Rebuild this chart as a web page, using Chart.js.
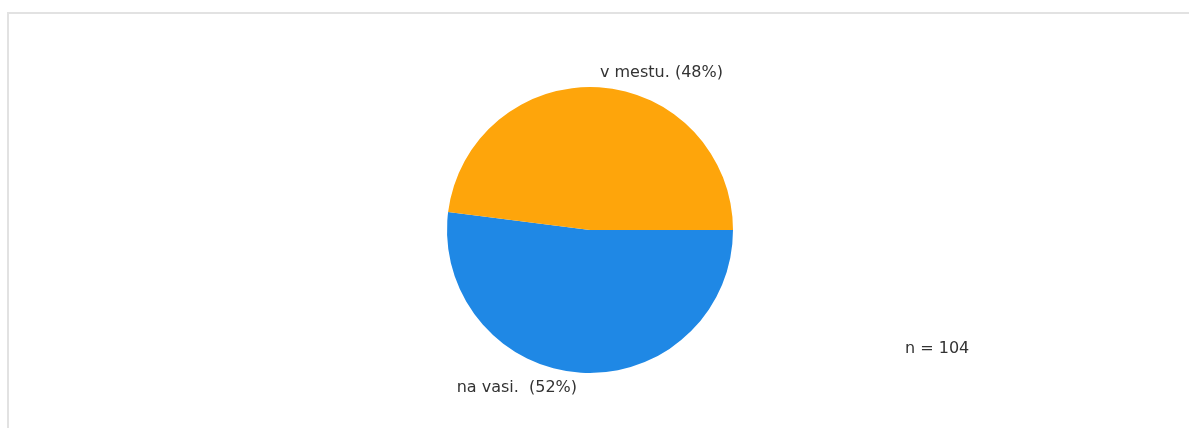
<!DOCTYPE html>
<html>
<head>
<meta charset="utf-8">
<script src="https://cdn.jsdelivr.net/npm/chart.js@4.4.1/dist/chart.umd.min.js"></script>
<style>
  html, body { margin: 0; padding: 0; background: #fff; }
  #wrap { position: relative; width: 1189px; height: 428px; overflow: hidden; }
  #frame { position: absolute; left: 7px; top: 12px; right: -4px; bottom: -4px;
           border-left: 2px solid #e2e2e2; border-top: 2px solid #e2e2e2; }
  canvas { position: absolute; left: 0; top: 0; }
</style>
</head>
<body>
<div id="wrap">
  <div id="frame"></div>
  <canvas id="c" width="1189" height="428"></canvas>
</div>
<script>
// Where respondents live
const categories = ['na vasi.', 'v mestu.'];
const shares = [52, 48];
const colors = ['#1f88e5', '#fea50b'];
const sampleNote = 'n = 104';

const labelFont = '16px "DejaVu Sans", Verdana, sans-serif';
const textColor = '#333333';

// Writes "name (xx%)" next to the outer edge of each slice, plus the sample size
const sliceLabels = {
  id: 'sliceLabels',
  afterDatasetsDraw(chart) {
    const ctx = chart.ctx;
    const meta = chart.getDatasetMeta(0);
    ctx.save();
    ctx.font = labelFont;
    ctx.fillStyle = textColor;
    ctx.textBaseline = 'middle';
    meta.data.forEach((arc, i) => {
      const p = arc.getProps(['x', 'y', 'startAngle', 'endAngle', 'outerRadius'], true);
      const mid = (p.startAngle + p.endAngle) / 2;
      const ex = p.x + Math.cos(mid) * p.outerRadius;
      const ey = p.y + Math.sin(mid) * p.outerRadius;
      const below = Math.sin(mid) > 0;
      const txt = categories[i] + (below ? '  ' : ' ') + '(' + shares[i] + '%)';
      const right = ex >= p.x;
      ctx.textAlign = right ? 'left' : 'right';
      ctx.fillText(txt, right ? ex + 1 : ex - 4, below ? ey + 15 : ey - 14);
    });
    ctx.textAlign = 'left';
    ctx.fillText(sampleNote, 905, 349);
    ctx.restore();
  }
};

new Chart(document.getElementById('c'), {
  type: 'pie',
  data: {
    labels: categories,
    datasets: [{
      data: shares,
      backgroundColor: colors,
      borderWidth: 0
    }]
  },
  options: {
    responsive: false,
    animation: false,
    rotation: 90,
    layout: { padding: { left: 447, right: 456, top: 87, bottom: 55 } },
    plugins: { legend: { display: false }, tooltip: { enabled: false } }
  },
  plugins: [sliceLabels]
});
</script>
</body>
</html>
